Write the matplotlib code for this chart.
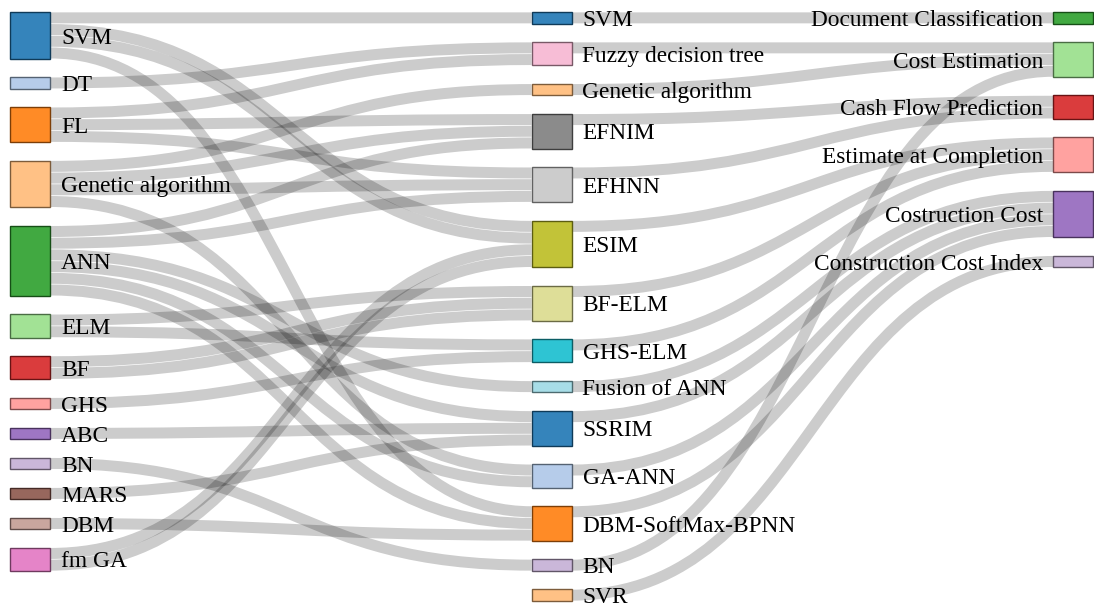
import matplotlib.pyplot as plt
import numpy as np
from matplotlib.path import Path
from matplotlib.patches import PathPatch, Rectangle
import matplotlib.colors as mcolors

# node columns (top to bottom)
left_nodes = ['SVM', 'DT', 'FL', 'Genetic algorithm', 'ANN', 'ELM', 'BF', 'GHS',
              'ABC', 'BN', 'MARS', 'DBM', 'fm GA']
mid_nodes = ['SVM', 'Fuzzy decision tree', 'Genetic algorithm', 'EFNIM', 'EFHNN', 'ESIM',
             'BF-ELM', 'GHS-ELM', 'Fusion of ANN', 'SSRIM', 'GA-ANN', 'DBM-SoftMax-BPNN',
             'BN', 'SVR']
right_nodes = ['Document Classification', 'Cost Estimation', 'Cash Flow Prediction',
               'Estimate at Completion', 'Costruction Cost', 'Construction Cost Index']

# links: method -> hybrid model (one entry per link)
stage1_src = ['SVM', 'SVM', 'SVM', 'SVM', 'DT', 'FL', 'FL', 'FL',
              'Genetic algorithm', 'Genetic algorithm', 'Genetic algorithm', 'Genetic algorithm',
              'ANN', 'ANN', 'ANN', 'ANN', 'ANN', 'ANN', 'ELM', 'ELM', 'BF', 'BF', 'GHS',
              'ABC', 'BN', 'MARS', 'DBM', 'fm GA', 'fm GA']
stage1_tgt = ['SVM', 'ESIM', 'ESIM', 'DBM-SoftMax-BPNN', 'Fuzzy decision tree',
              'Fuzzy decision tree', 'EFNIM', 'EFHNN',
              'Genetic algorithm', 'EFNIM', 'EFHNN', 'GA-ANN',
              'EFNIM', 'EFHNN', 'Fusion of ANN', 'SSRIM', 'GA-ANN', 'DBM-SoftMax-BPNN',
              'BF-ELM', 'GHS-ELM', 'BF-ELM', 'BF-ELM', 'GHS-ELM',
              'SSRIM', 'BN', 'SSRIM', 'DBM-SoftMax-BPNN', 'ESIM', 'ESIM']
stage1_val = [1] * len(stage1_src)

# links: hybrid model -> application
stage2_src = ['SVM', 'Fuzzy decision tree', 'Genetic algorithm', 'EFNIM', 'EFHNN', 'ESIM',
              'BF-ELM', 'GHS-ELM', 'Fusion of ANN', 'SSRIM', 'GA-ANN', 'DBM-SoftMax-BPNN',
              'BN', 'SVR']
stage2_tgt = ['Document Classification', 'Cost Estimation', 'Cost Estimation',
              'Cash Flow Prediction', 'Cash Flow Prediction', 'Estimate at Completion',
              'Estimate at Completion', 'Estimate at Completion', 'Costruction Cost',
              'Costruction Cost', 'Costruction Cost', 'Costruction Cost',
              'Cost Estimation', 'Construction Cost Index']
stage2_val = [1] * len(stage2_src)

palette = ['#1f77b4', '#aec7e8', '#ff7f0e', '#ffbb78', '#2ca02c', '#98df8a', '#d62728',
           '#ff9896', '#9467bd', '#c5b0d5', '#8c564b', '#c49c94', '#e377c2', '#f7b6d2',
           '#7f7f7f', '#c7c7c7', '#bcbd22', '#dbdb8d', '#17becf', '#9edae5']

W, H = 1094, 611
node_w = 40
col_x = [10, 531.5, 1053]
top, bottom = 12, 601
pad = 18.3
fs = 16.8  # label size in pt

# ---- build nodes
nodes = {}
columns = [left_nodes, mid_nodes, right_nodes]
for c, names in enumerate(columns):
    for n in names:
        nodes[(c, n)] = {'col': c, 'name': n, 'src': [], 'tgt': []}

links = []
for c, (ss, tt, vv) in enumerate([(stage1_src, stage1_tgt, stage1_val),
                                  (stage2_src, stage2_tgt, stage2_val)]):
    for s, t, v in zip(ss, tt, vv):
        lk = {'s': nodes[(c, s)], 't': nodes[(c + 1, t)], 'v': v}
        links.append(lk)
        lk['s']['src'].append(lk)
        lk['t']['tgt'].append(lk)

for nd in nodes.values():
    nd['v'] = max(sum(l['v'] for l in nd['src']), sum(l['v'] for l in nd['tgt']))

ky = min((bottom - top - (len(names) - 1) * pad) / sum(nodes[(c, n)]['v'] for n in names)
         for c, names in enumerate(columns))

for c, names in enumerate(columns):
    y = top
    for n in names:
        nd = nodes[(c, n)]
        nd['y0'] = y
        nd['y1'] = y + nd['v'] * ky
        nd['x0'] = col_x[c]
        nd['x1'] = col_x[c] + node_w
        y = nd['y1'] + pad

for nd in nodes.values():
    sy = nd['y0']
    for l in sorted(nd['src'], key=lambda l: l['t']['y0']):
        l['sy'] = sy
        sy += l['v'] * ky
    ty = nd['y0']
    for l in sorted(nd['tgt'], key=lambda l: l['s']['y0']):
        l['ty'] = ty
        ty += l['v'] * ky

# ---- draw
fig = plt.figure(figsize=(W / 100, H / 100), dpi=100)
ax = fig.add_axes([0, 0, 1, 1])
ax.set_xlim(0, W)
ax.set_ylim(H, 0)
ax.axis('off')

for l in links:
    w = l['v'] * ky
    x0, x1 = l['s']['x1'], l['t']['x0']
    y0, y1 = l['sy'] + w / 2, l['ty'] + w / 2
    xm = (x0 + x1) / 2
    p = Path([(x0, y0), (xm, y0), (xm, y1), (x1, y1)],
             [Path.MOVETO, Path.CURVE4, Path.CURVE4, Path.CURVE4])
    ax.add_patch(PathPatch(p, fill=False, edgecolor=(0, 0, 0, 0.2),
                           lw=(w - 0.7) * 0.72, capstyle='butt'))

color_of = {}
for c, names in enumerate(columns):
    for n in names:
        if n not in color_of:
            color_of[n] = palette[len(color_of) % len(palette)]

shift = 0.35 * fs * 100 / 72
for nd in nodes.values():
    col = mcolors.to_rgb(color_of[nd['name']])
    dark = tuple(v * 0.49 for v in col)
    ax.add_patch(Rectangle((nd['x0'], nd['y0']), node_w, nd['y1'] - nd['y0'],
                           facecolor=col + (0.9,), edgecolor=dark, lw=1.0, zorder=3))
    yc = (nd['y0'] + nd['y1']) / 2 + shift
    if nd['col'] < 2:
        ax.text(nd['x1'] + 11, yc, nd['name'], ha='left', va='baseline',
                family='Liberation Serif', fontsize=fs, zorder=4)
    else:
        ax.text(nd['x0'] - 10, yc, nd['name'], ha='right', va='baseline',
                family='Liberation Serif', fontsize=fs, zorder=4)

fig.savefig('out.png', dpi=100)
